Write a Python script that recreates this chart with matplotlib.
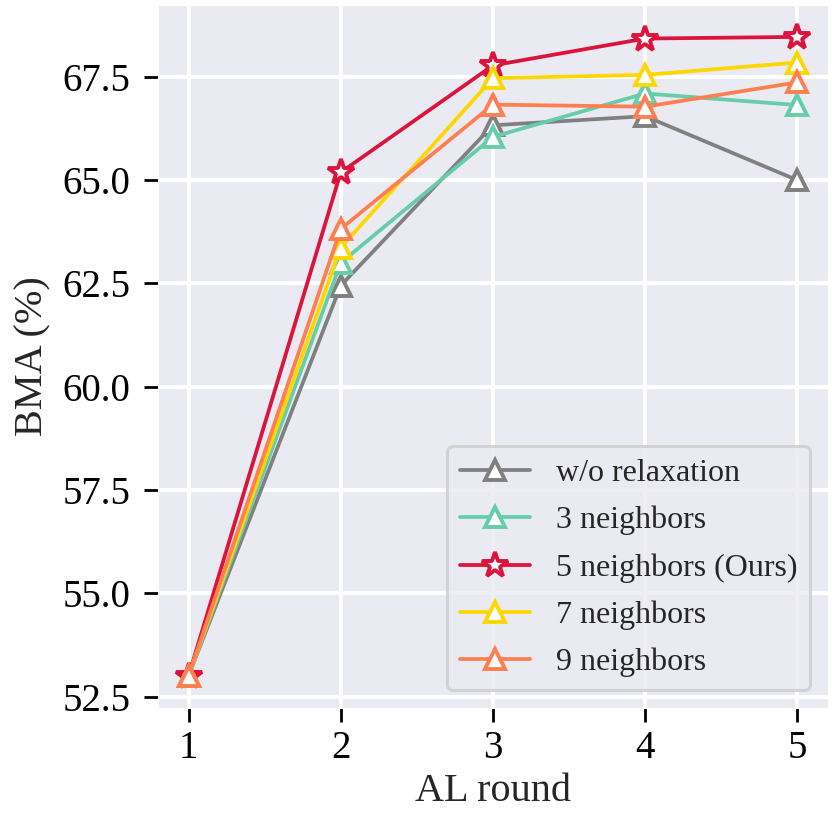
import numpy as np
import matplotlib.pyplot as plt
import seaborn as sns

sns.set_style('darkgrid', {'xtick.bottom': True, 'ytick.left': True})
plt.rcParams['font.family'] = ['Liberation Serif', 'DejaVu Serif']

# data
rounds = [1, 2, 3, 4, 5]
labels = ['w/o relaxation', '3 neighbors', '5 neighbors (Ours)', '7 neighbors', '9 neighbors']
bma_no_relax = [53.0, 62.45, 66.33, 66.55, 65.0]
bma_3 = [53.0, 63.0, 66.05, 67.1, 66.82]
bma_5 = [53.0, 65.19, 67.78, 68.43, 68.47]
bma_7 = [53.0, 63.37, 67.47, 67.55, 67.85]
bma_9 = [53.0, 63.82, 66.83, 66.78, 67.37]

series = [bma_no_relax, bma_3, bma_5, bma_7, bma_9]
colors = ['#808080', '#66CDAA', '#DC143C', '#FFD700', '#FF7F50']
markers = ['^', '^', '*', '^', '^']

fig = plt.figure(figsize=(8.32, 8.24), dpi=100)
ax = fig.add_axes([0.19, 0.141, 0.805, 0.853])

for vals, lab, c, m in zip(series, labels, colors, markers):
    ms = 19 if m == '*' else 15
    ax.plot(rounds, vals, color=c, marker=m, markersize=ms, markerfacecolor='white',
            markeredgecolor=c, markeredgewidth=2.8, linewidth=2.7, label=lab)

ax.set_yticks([52.5, 55.0, 57.5, 60.0, 62.5, 65.0, 67.5])
ax.set_xticks(rounds)
ax.tick_params(axis='both', labelsize=28, length=10, width=2, color='black', labelcolor='black')
ax.tick_params(axis='y', pad=10)
ax.tick_params(axis='x', pad=6)
ax.grid(True, color='white', linewidth=2.9)
ax.set_xlabel('AL round', fontsize=29, labelpad=4)
ax.set_ylabel('BMA (%)', fontsize=29, labelpad=8)
leg = ax.legend(loc='lower right', fontsize=23, frameon=True, borderpad=0.4,
                handlelength=2.2, labelspacing=0.56, borderaxespad=0.55)
leg.get_frame().set_linewidth(2.2)
leg.get_frame().set_edgecolor('#cccccc')

plt.savefig('out.png', dpi=100)
